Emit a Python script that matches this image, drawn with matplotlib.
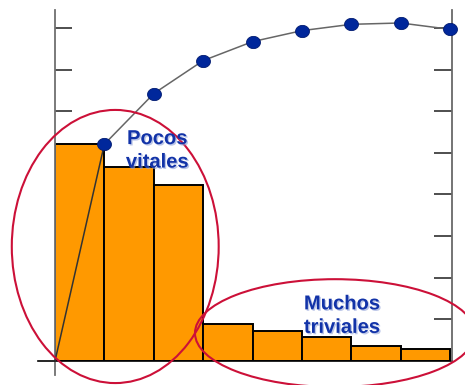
import matplotlib
matplotlib.use("Agg")
import matplotlib.pyplot as plt
import matplotlib.patheffects as pe
from matplotlib.patches import Ellipse
from matplotlib.path import Path
import numpy as np

# Data
categories = ["A", "B", "C", "D", "E", "F", "G", "H"]
counts = [52.2, 46.6, 42.3, 8.8, 7.1, 5.8, 3.7, 2.9]
cum_x = [0, 1, 2, 3, 4, 5, 6, 7, 8]
cum_pct = [0, 65.1, 80.3, 90.2, 95.9, 99.2, 101.1, 101.5, 99.6]
left_ticks = [10, 20, 30, 40, 50, 60, 70, 80]
right_ticks = [12.5, 25, 37.5, 50, 62.5, 75, 87.5, 100]
label_vital = "Pocos\nvitales"
label_trivial = "Muchos\ntriviales"

W, H = 465, 385
fig = plt.figure(figsize=(W / 100, H / 100), dpi=100)
ax = fig.add_axes([55 / W, (H - 361) / H, (452 - 55) / W, (361 - 10) / H])
ax.set_xlim(0, 8.04)
ax.set_ylim(0, 84.3)

xpos = np.arange(len(categories)) + 0.5
ax.bar(xpos, counts, width=1.0, color="#FF9900", edgecolor="black",
       linewidth=1.4, zorder=2)

# spines
ax.spines["top"].set_visible(False)
ax.spines["left"].set_color("#707070")
ax.spines["left"].set_linewidth(1.3)
ax.spines["right"].set_color("#707070")
ax.spines["right"].set_linewidth(1.1)
ax.spines["bottom"].set_color("black")
ax.spines["bottom"].set_linewidth(1.2)
ax.set_xticks([])
ax.set_yticks(left_ticks)
ax.set_yticklabels([])
ax.tick_params(axis="y", direction="in", length=12.2, width=1.3, color="#404040")

# extensions of the axis lines
ax.plot([0, 0], [0, -3.4], color="#707070", lw=1.3, clip_on=False, zorder=3)
ax.plot([-0.34, 0], [0, 0], color="black", lw=1.2, clip_on=False, zorder=3)

ax2 = ax.twinx()
ax2.set_ylim(0, 105.4)
ax2.set_yticks(right_ticks)
ax2.set_yticklabels([])
ax2.tick_params(axis="y", direction="in", length=13, width=1.3, color="#404040")
for s in ["top", "left", "bottom"]:
    ax2.spines[s].set_visible(False)
ax2.spines["right"].set_color("#707070")
ax2.spines["right"].set_linewidth(1.1)

# cumulative line
ax2.plot(cum_x[:2], cum_pct[:2], color="#333333", lw=1.1, zorder=3, clip_on=False)
ax2.plot(cum_x[1:], cum_pct[1:], color="#666666", lw=1.1, zorder=3, clip_on=False)
t = np.linspace(0, 2 * np.pi, 60)
marker_path = Path(np.column_stack([np.cos(t), 0.88 * np.sin(t)]))
ax2.plot(cum_x[1:], cum_pct[1:], linestyle="none", marker=marker_path,
         markersize=10, markerfacecolor="#00279B", markeredgecolor="#001a70",
         markeredgewidth=0.6, zorder=4, clip_on=False)

# ellipses (in bar-axis data coordinates)
e1 = Ellipse((1.22, 27.5), 4.19, 65.6, fill=False, edgecolor="#CC1038",
             lw=1.5, transform=ax.transData, clip_on=False, zorder=5)
e2 = Ellipse((5.67, 6.7), 5.67, 25.9, fill=False, edgecolor="#CC1038",
             lw=1.5, transform=ax.transData, clip_on=False, zorder=5)
ax2.add_patch(e1)
ax2.add_patch(e2)

effects = [pe.SimplePatchShadow(offset=(1, -1), shadow_rgbFace="#8fa0d8", alpha=0.6),
           pe.Normal()]
ax2.text(2.07, 50.6, label_vital, transform=ax.transData, ha="center", va="center",
         fontsize=14.5, fontweight="bold", family="Liberation Sans", color="#1233A8",
         linespacing=1.3, zorder=6, path_effects=effects)
ax2.text(5.81, 10.9, label_trivial, transform=ax.transData, ha="center", va="center",
         fontsize=14.5, fontweight="bold", family="Liberation Sans", color="#1233A8",
         linespacing=1.3, zorder=6, path_effects=effects)

fig.savefig("out.png", dpi=100)
